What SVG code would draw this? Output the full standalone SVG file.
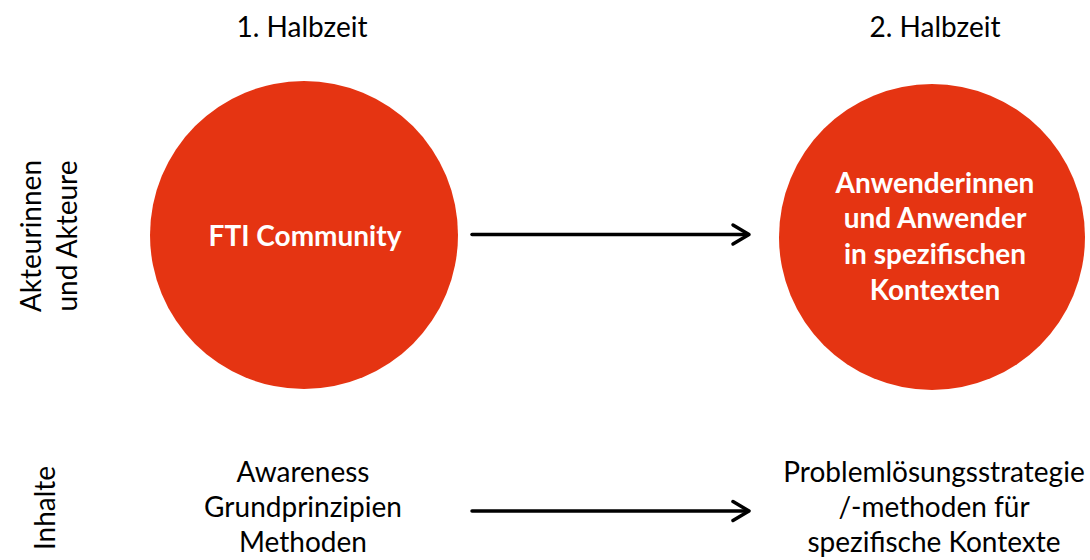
<svg xmlns="http://www.w3.org/2000/svg" width="1090" height="560" viewBox="0 0 1090 560">
<style>
.t{font-family:Lato,"Open Sans","Liberation Sans",sans-serif;font-size:28px;fill:#000;text-anchor:middle}
.w{font-family:Lato,"Open Sans","Liberation Sans",sans-serif;font-size:28px;font-weight:bold;fill:#fff;text-anchor:middle}
.c{fill:#E53412}
.a{stroke:#000;stroke-width:3.5;fill:none;stroke-linecap:round;stroke-linejoin:round}
</style>
<rect width="1090" height="560" fill="#fff"/>
<g id="header1"><text class="t" x="302" y="37">1. Halbzeit</text></g>
<g id="header2"><text class="t" x="935" y="37">2. Halbzeit</text></g>
<g id="rowlabel1"><text class="t" transform="translate(41,236) rotate(-90)">Akteurinnen</text><text class="t" transform="translate(77,236) rotate(-90)">und Akteure</text></g>
<g id="rowlabel2"><text class="t" transform="translate(55,508) rotate(-90)">Inhalte</text></g>
<g id="node1"><circle class="c" cx="304" cy="235" r="154"/><text class="w" x="305" y="246">FTI Community</text></g>
<g id="node2"><circle class="c" cx="932" cy="237" r="153"/>
<text class="w" x="935" y="193">Anwenderinnen</text>
<text class="w" x="935" y="228">und Anwender</text>
<text class="w" x="935" y="264">in spezifischen</text>
<text class="w" x="935" y="300">Kontexten</text></g>
<g id="content1"><text class="t" x="303" y="482">Awareness</text><text class="t" x="303" y="517">Grundprinzipien</text><text class="t" x="303" y="552">Methoden</text></g>
<g id="content2"><text class="t" x="934" y="482">Problemlösungsstrategie</text><text class="t" x="934" y="517">/-methoden für</text><text class="t" x="934" y="552">spezifische Kontexte</text></g>
<g id="connectors">
<path class="a" d="M472 234.5 H748"/><path class="a" d="M733 225 L749 234.5 L733 244"/>
<path class="a" d="M472 511 H748"/><path class="a" d="M733 501.5 L749 511 L733 520.5"/>
</g>
</svg>
